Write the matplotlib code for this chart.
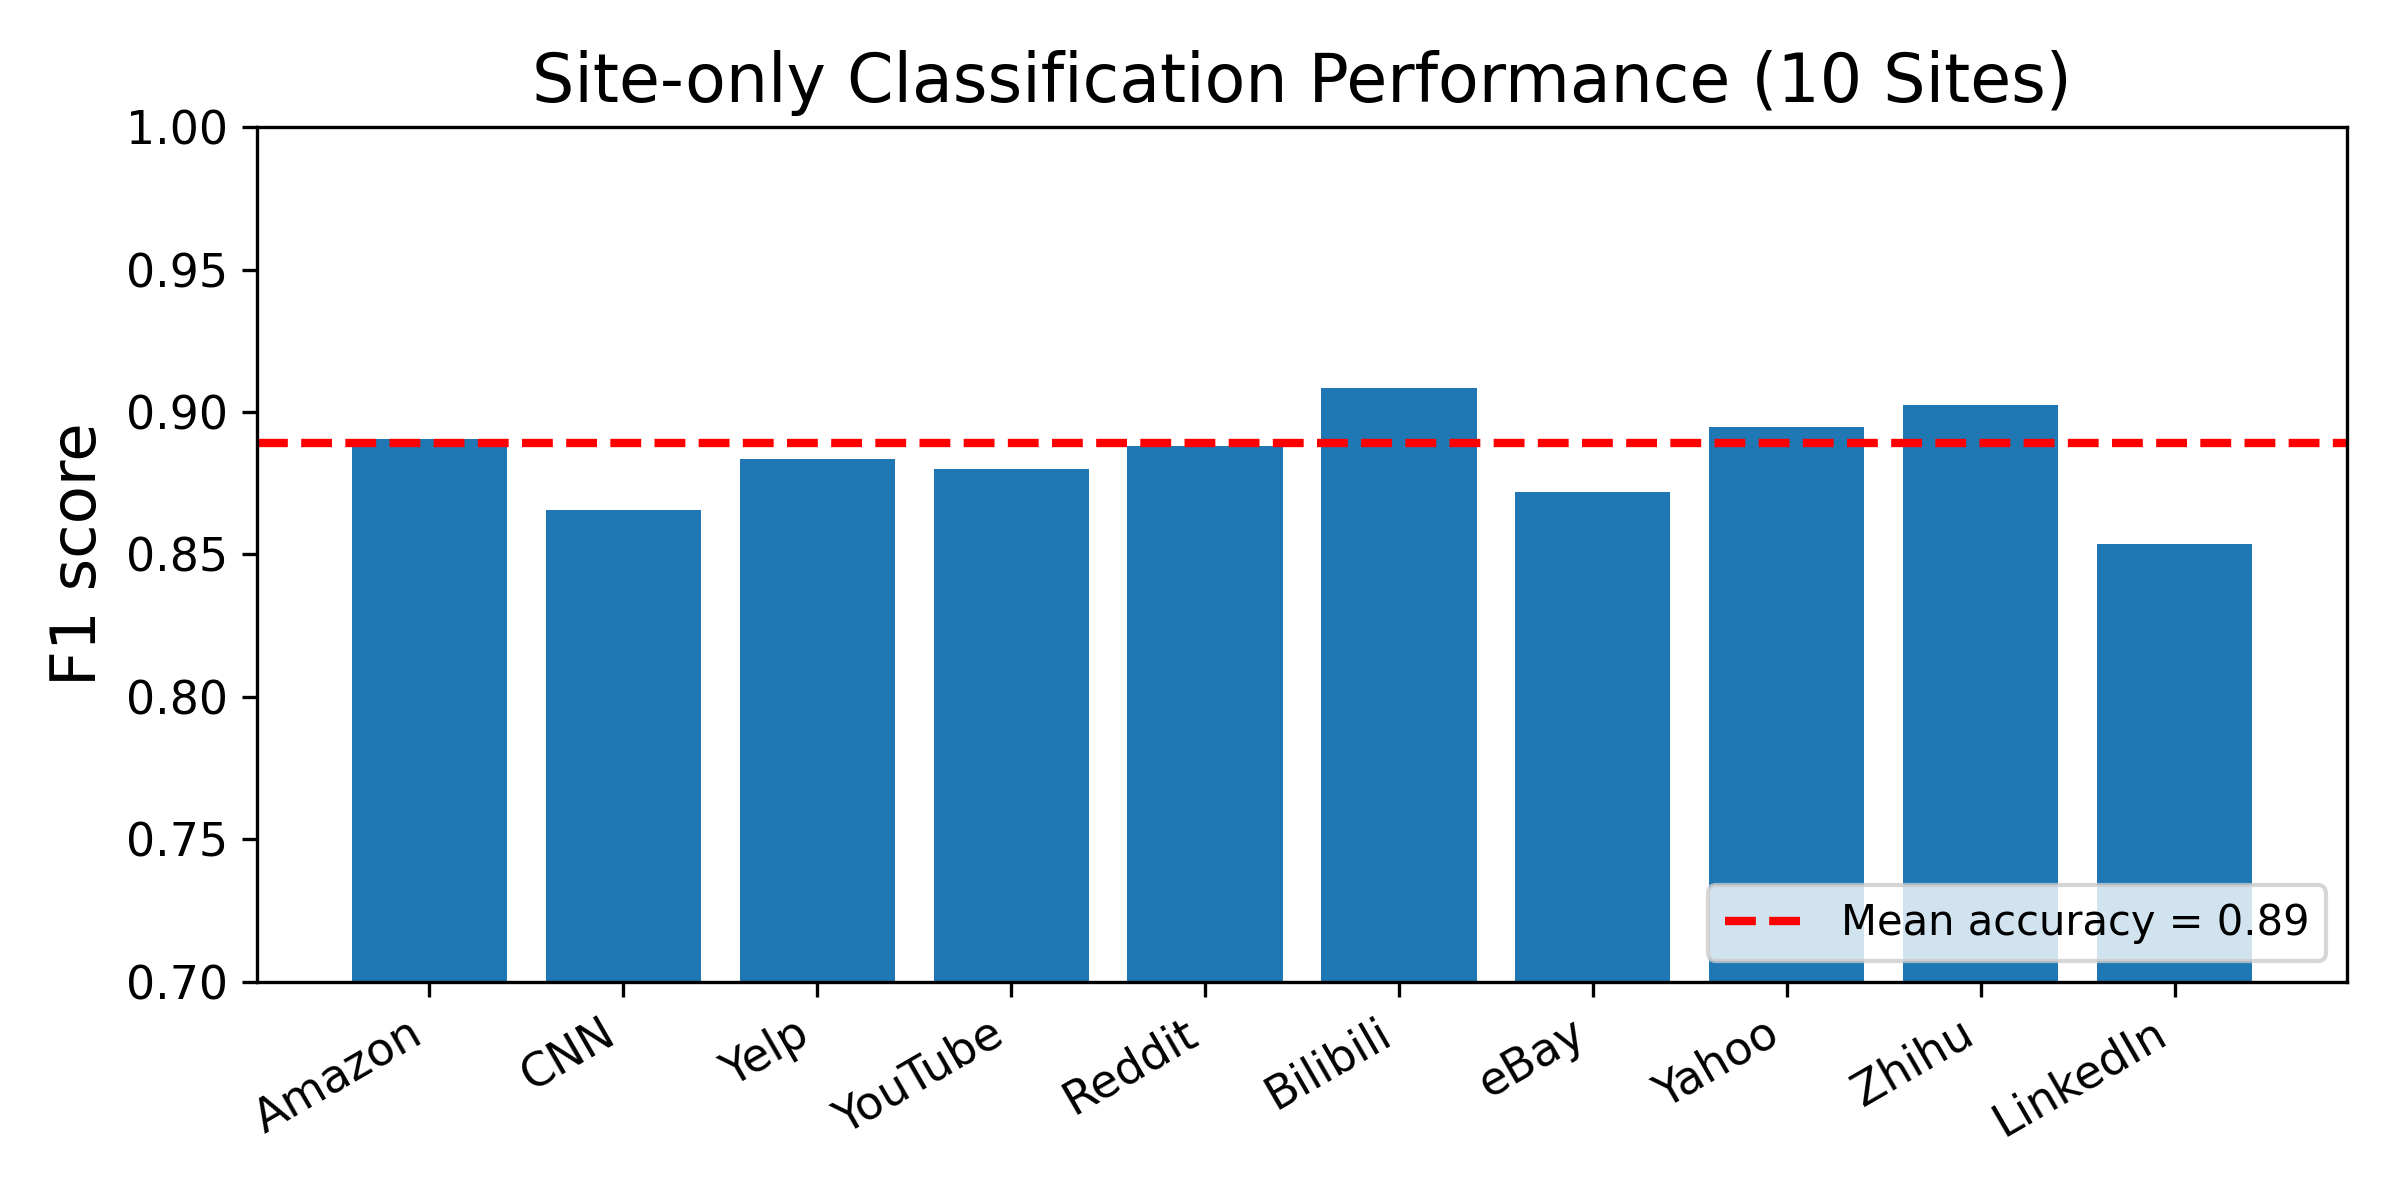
import matplotlib
matplotlib.use('Agg')
import matplotlib.pyplot as plt
import numpy as np

sites = ['Amazon', 'CNN', 'Yelp', 'YouTube', 'Reddit', 'Bilibili', 'eBay', 'Yahoo', 'Zhihu', 'LinkedIn']
f1_scores = [0.8904, 0.8656, 0.8835, 0.8800, 0.8881, 0.9084, 0.8719, 0.8947, 0.9025, 0.8536]
mean_accuracy = 0.889

fig, ax = plt.subplots(figsize=(8, 4), dpi=300)

x = np.arange(len(sites))
ax.bar(x, f1_scores, color='tab:blue')
ax.axhline(mean_accuracy, color='red', linestyle='--', linewidth=2,
           label='Mean accuracy = {:.2f}'.format(mean_accuracy))

ax.set_xticks(x)
ax.set_xticklabels(sites, rotation=30, ha='right', fontsize=11)
ax.tick_params(axis='y', labelsize=11)
ax.set_ylim(0.70, 1.00)
ax.set_ylabel('F1 score', fontsize=15)
ax.set_title('Site-only Classification Performance (10 Sites)', fontsize=16)
ax.legend(loc='lower right')

fig.subplots_adjust(left=0.107, right=0.978, top=0.894, bottom=0.182)
fig.savefig('out.png', dpi=300)
